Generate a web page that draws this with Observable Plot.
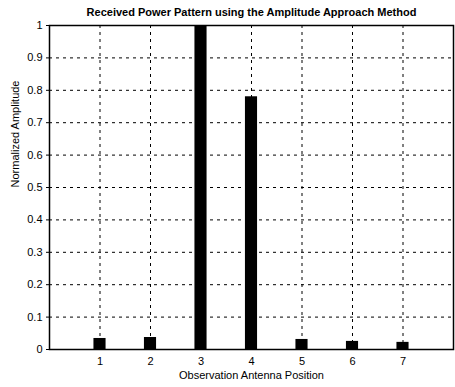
<!DOCTYPE html>
<html>
<head>
<meta charset="utf-8">
<script src="https://cdn.jsdelivr.net/npm/d3@7"></script>
<script src="https://cdn.jsdelivr.net/npm/@observablehq/plot@0.6"></script>
<style>
  html, body { margin: 0; padding: 0; background: #fff; }
  svg { display: block; }
</style>
</head>
<body>
<div id="chart"></div>
<script>
const positions = [1, 2, 3, 4, 5, 6, 7];
const amplitudes = [0.034, 0.037, 1.0, 0.78, 0.031, 0.025, 0.022];
const xTicks = [1, 2, 3, 4, 5, 6, 7];
const yTicks = [0, 0.1, 0.2, 0.3, 0.4, 0.5, 0.6, 0.7, 0.8, 0.9, 1];
const title = "Received Power Pattern using the Amplitude Approach Method";
const xLabel = "Observation Antenna Position";
const yLabel = "Normalized Amplitude";

const data = positions.map((p, i) => ({pos: p, val: amplitudes[i]}));
const halfW = 0.12;

const chart = Plot.plot({
  width: 455,
  height: 387,
  marginLeft: 49,
  marginRight: 2,
  marginTop: 25,
  marginBottom: 38,
  style: {fontFamily: "Liberation Sans, Arial, sans-serif", fontSize: "11px", color: "#000", background: "#fff"},
  x: {domain: [0, 8], ticks: xTicks, tickFormat: d => String(d), tickSize: 0, tickPadding: 8, label: null},
  y: {domain: [0, 1], ticks: yTicks, tickFormat: d => String(d), tickSize: 3, tickPadding: 4, label: null},
  marks: [
    Plot.gridX(xTicks, {stroke: "#000", strokeOpacity: 1, strokeDasharray: "3,4", strokeWidth: 1}),
    Plot.gridY(yTicks.filter(d => d > 0 && d < 1), {stroke: "#000", strokeOpacity: 1, strokeDasharray: "3,4", strokeWidth: 1}),
    Plot.rectY(data, {x1: d => d.pos - halfW, x2: d => d.pos + halfW, y1: 0, y2: "val", fill: "#000"}),
    Plot.frame({stroke: "#000", strokeWidth: 1.5}),
    Plot.axisX({ticks: xTicks, tickSize: 0, tickPadding: 8, tickFormat: d => String(d), label: null, fontSize: 11}),
    Plot.axisY({ticks: yTicks, tickSize: 3, tickPadding: 4, tickFormat: d => String(d), label: null, fontSize: 11}),
    Plot.text([title], {frameAnchor: "top", dy: -17, fontSize: 11, fontWeight: "bold", fill: "#000"}),
    Plot.text([xLabel], {frameAnchor: "bottom", dy: 29, fontSize: 11, fill: "#000"}),
    Plot.text([yLabel], {frameAnchor: "left", dx: -34, rotate: -90, fontSize: 11, fill: "#000"})
  ]
});
document.getElementById("chart").appendChild(chart);
</script>
</body>
</html>
